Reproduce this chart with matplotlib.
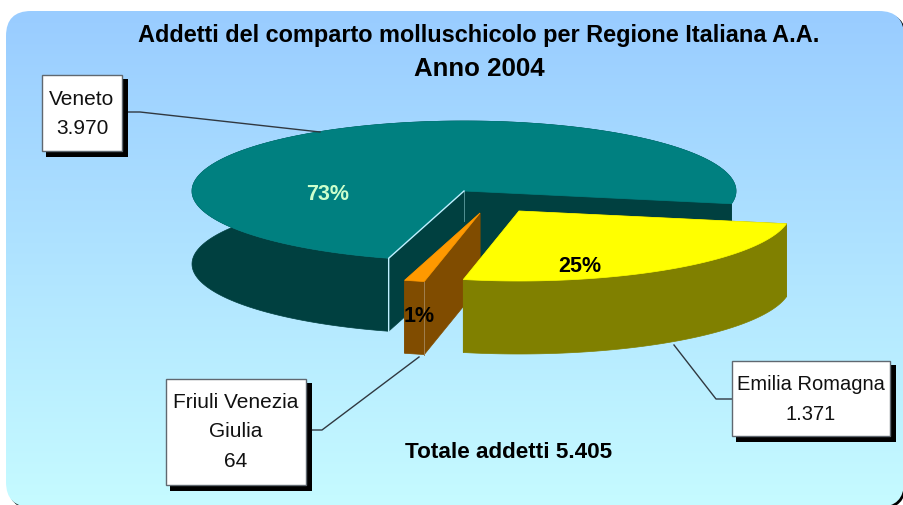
import numpy as np
import matplotlib
matplotlib.use("Agg")
import matplotlib.pyplot as plt
from matplotlib.colors import to_rgb
from matplotlib.patches import FancyBboxPatch, Polygon, Rectangle

plt.rcParams['font.family'] = ['Liberation Sans', 'DejaVu Sans']

# data, counterclockwise from the start angle
regions = ["Veneto", "Friuli Venezia\nGiulia", "Emilia Romagna"]
addetti = [3970, 64, 1371]
value_labels = ["3.970", "64", "1.371"]
totale_label = "5.405"

# pie geometry in pixels
START_ANGLE = -10.5
RX = 272
RY = 70
DEPTH = 73
centers = [(464, 192), (480, 214), (519, 212)]
top_colors = ["#008080", "#FF9900", "#FFFF00"]
side_colors = ["#004040", "#804C00", "#808000"]
pct_colors = ["#CCFFCC", "black", "black"]
pct_positions = [(328, 195), (419, 317), (580, 266)]


def arc_points(center, a1, a2):
    t = np.radians(np.linspace(a1, a2, 200))
    return np.column_stack([center[0] + RX * np.cos(t), center[1] - RY * np.sin(t)])


def draw_slice(ax, center, a1, a2, top, side):
    cx, cy = center
    arc = arc_points(center, a1, a2)
    down = np.array([0, DEPTH])
    # two cut faces
    for end in [arc[0], arc[-1]]:
        face = [(cx, cy), end, end + down, (cx, cy + DEPTH)]
        ax.add_patch(Polygon(face, fc=side, ec=side, lw=0.5))
    # outer wall
    wall = np.vstack([arc, arc[::-1] + down])
    ax.add_patch(Polygon(wall, fc=side, ec=side, lw=0.5))
    # top face
    ax.add_patch(Polygon(np.vstack([[(cx, cy)], arc]), fc=top, ec=top, lw=0.5))
    return arc


def label_box(ax, x0, y0, x1, y1, text, size=15, dy=0):
    ax.add_patch(Rectangle((x0 + 4, y0 + 4), x1 - x0 + 2, y1 - y0 + 2, fc="black", ec="none", zorder=6))
    ax.add_patch(Rectangle((x0, y0), x1 - x0, y1 - y0, fc="white", ec="#606870", lw=1, zorder=7))
    ax.text((x0 + x1) / 2, (y0 + y1) / 2 + dy, text, ha="center", va="center", fontsize=size,
            linespacing=1.72, color="#111111", zorder=8)


fig = plt.figure(figsize=(9.04, 5.06), dpi=100)
ax = fig.add_axes([0, 0, 1, 1])

# panel with shadow and gradient
ax.add_patch(FancyBboxPatch((8, 14), 898, 496, boxstyle="round,pad=0,rounding_size=25",
                            fc="black", ec="none", zorder=0))
panel = FancyBboxPatch((6, 12), 898, 496, boxstyle="round,pad=0,rounding_size=25",
                       fc="none", ec="none", zorder=1)
ax.add_patch(panel)
c_top = np.array(to_rgb("#99CCFF"))
c_bot = np.array(to_rgb("#C6FBFF"))
shade = np.linspace(0, 1, 256)[:, None, None]
grad = ax.imshow(c_top + (c_bot - c_top) * shade, extent=(6, 904, 508, 12), aspect="auto", zorder=1)
grad.set_clip_path(panel)

ax.set_xlim(0, 904)
ax.set_ylim(506, 0)
ax.axis("off")

# slice angles come from the values
total = sum(addetti)
angle = START_ANGLE
arcs = []
for i in range(len(addetti)):
    sweep = addetti[i] / total * 360
    arcs.append(draw_slice(ax, centers[i], angle, angle + sweep, top_colors[i], side_colors[i]))
    angle += sweep

# light lines along the Veneto cut and the Friuli front
vx, vy = arcs[0][-1]
ax.plot([centers[0][0], vx, vx], [centers[0][1], vy, vy + DEPTH], color="#BFEFFF", lw=1, zorder=3)
ax.plot([centers[0][0], centers[0][0]], [centers[0][1], centers[0][1] + 30], color="#5F9EA0", lw=0.6, zorder=1.5)
fx, fy = arcs[1][-1]
ax.plot([fx, fx], [fy, fy + DEPTH], color="#A08050", lw=0.7, zorder=3)

for i in range(len(addetti)):
    pct = round(addetti[i] / total * 100)
    ax.text(pct_positions[i][0], pct_positions[i][1], f"{pct}%", ha="center", va="center",
            fontsize=15.5, fontweight="bold", color=pct_colors[i], zorder=5)

# leader lines
ax.plot([124, 140, 320], [113, 113, 133], color="#303840", lw=1, zorder=4)
ax.plot([674, 716, 732], [346, 400, 400], color="#303840", lw=1, zorder=4)
ax.plot([308, 322, 419], [431, 431, 358], color="#303840", lw=1, zorder=4)

label_box(ax, 42, 76, 122, 152, regions[0] + "\n" + value_labels[0])
label_box(ax, 166, 380, 306, 486, regions[1] + "\n" + value_labels[1], dy=-1)
label_box(ax, 732, 362, 890, 437, regions[2] + "\n" + value_labels[2], size=14.5)

ax.text(479, 35, "Addetti del comparto molluschicolo per Regione Italiana A.A.", ha="center", va="center",
        fontsize=16.9, fontweight="bold", zorder=9)
ax.text(479, 69, "Anno 2004", ha="center", va="center", fontsize=18.6, fontweight="bold", zorder=9)
ax.text(509, 453, "Totale addetti " + totale_label, ha="center", va="center", fontsize=16.2,
        fontweight="bold", zorder=9)

fig.savefig("out.png", dpi=100)
